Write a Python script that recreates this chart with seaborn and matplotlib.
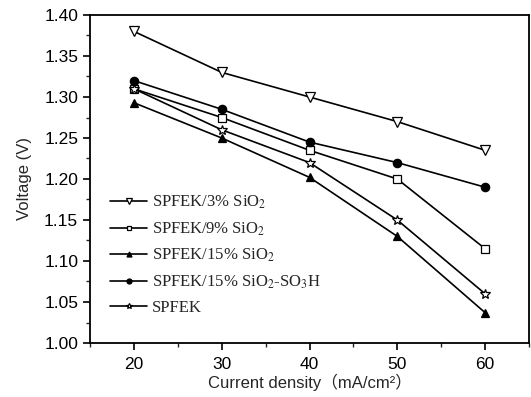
import matplotlib
matplotlib.use("Agg")
import matplotlib.pyplot as plt
import seaborn as sns
import pandas as pd
from matplotlib.ticker import MultipleLocator

current = [20, 30, 40, 50, 60]
v_3si = [1.380, 1.330, 1.300, 1.270, 1.235]
v_9si = [1.310, 1.275, 1.235, 1.200, 1.115]
v_15si = [1.293, 1.250, 1.202, 1.130, 1.037]
v_15so3h = [1.320, 1.285, 1.245, 1.220, 1.190]
v_spfek = [1.310, 1.260, 1.220, 1.150, 1.060]

labels = ["SPFEK/3% SiO$_2$", "SPFEK/9% SiO$_2$", "SPFEK/15% SiO$_2$",
          "SPFEK/15% SiO$_2$-SO$_3$H", "SPFEK"]
series = [v_3si, v_9si, v_15si, v_15so3h, v_spfek]
markers = ["v", "s", "^", "o", "*"]
faces = ["white", "white", "black", "black", "white"]
msizes = [7.5, 5.5, 6, 6, 7]

sns.set_style("ticks")
plt.rcParams['font.family'] = ['Liberation Sans', 'Noto Sans CJK SC', 'DejaVu Sans']
plt.rcParams['mathtext.fontset'] = 'stix'

fig = plt.figure(figsize=(5.31, 3.97), dpi=100)
ax = fig.add_axes([90/531, 1-343/397, 439/531, 328/397])

for lab, vals, m, fc, ms in zip(labels, series, markers, faces, msizes):
    df = pd.DataFrame({"x": current, "y": vals})
    sns.lineplot(data=df, x="x", y="y", ax=ax, color="black", lw=1.2,
                 marker=m, markersize=ms, markerfacecolor=fc,
                 markeredgecolor="black", markeredgewidth=0.9, label=lab)

ax.set_xlim(15, 65)
ax.set_ylim(1.00, 1.40)
ax.xaxis.set_major_locator(MultipleLocator(10))
ax.xaxis.set_minor_locator(MultipleLocator(5))
ax.yaxis.set_major_locator(MultipleLocator(0.05))
ax.yaxis.set_minor_locator(MultipleLocator(0.025))
ax.yaxis.set_major_formatter(matplotlib.ticker.FormatStrFormatter('%.2f'))
ax.tick_params(which='major', direction='out', length=5, width=1.2, labelsize=12.5, colors='black')
ax.tick_params(axis='x', which='major', pad=5)
ax.tick_params(which='minor', direction='out', length=3, width=1.0)
for s in ax.spines.values():
    s.set_linewidth(1.3)
    s.set_color('black')

ax.set_xlabel("Current density（mA/cm²）", fontsize=12, labelpad=1)
ax.set_ylabel("Voltage (V)", fontsize=12, labelpad=9)

leg = ax.legend(loc='upper left', bbox_to_anchor=(0.02, 0.49), frameon=False,
                prop={'family': 'Liberation Serif', 'size': 12},
                markerscale=0.6, handlelength=2.2, handletextpad=0.3,
                labelspacing=0.55, borderpad=0.2)

fig.savefig("out.png", dpi=100, facecolor='white')
